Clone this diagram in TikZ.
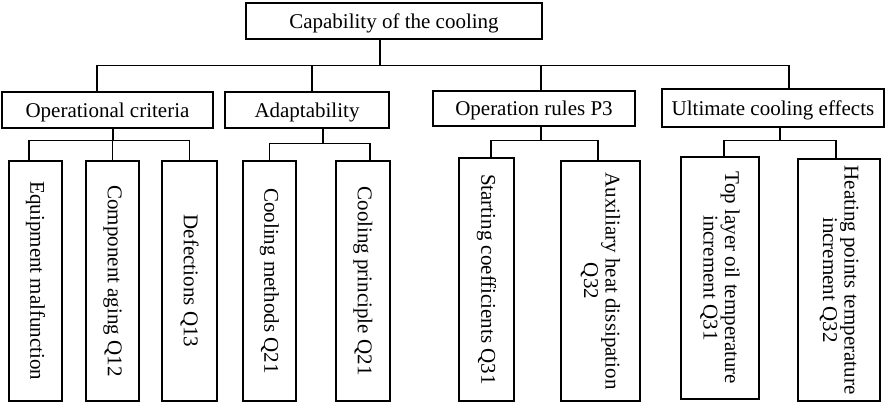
\documentclass[tikz,border=0pt]{standalone}
\usepackage{fontspec}
\setmainfont{Liberation Serif}
\usepackage{tikz}
\usetikzlibrary{positioning, calc}

\begin{document}
\begin{tikzpicture}[
  x=1pt, y=1pt,
  headnode/.style={
    rectangle, draw=black, line width=1.5pt,
    minimum height=36pt, inner sep=0pt,
    font=\fontsize{21}{22}\selectfont,
    text height=14.5pt, text depth=0pt
  },
  leafnode/.style={
    rectangle, draw=black, line width=1.5pt, rotate=-90,
    minimum width=240pt, inner sep=0pt, align=center,
    font=\fontsize{21}{21.5}\selectfont
  },
  link/.style={draw, line width=1.5pt, black},
]
\useasboundingbox (0,0) rectangle (889,-403);

% ============================================================
% ROOT AND CRITERIA
% ============================================================
\node[headnode, minimum width=296pt] (root) at (394,-21) {Capability of the cooling};

\node[headnode, minimum width=211pt] (opcrit) at (107.5,-110) {Operational criteria};
\node[headnode, minimum width=164pt] (adapt) at (307,-110) {Adaptability};
\node[headnode, minimum width=202pt, minimum height=35pt] (oprules) at (534,-108.5) {Operation rules P3};
\node[headnode, minimum width=222pt, minimum height=38pt] (ulteff) at (773,-108) {Ultimate cooling effects};

% ============================================================
% INDICATORS (rotated boxes)
% ============================================================
\node[leafnode, minimum height=53pt] (malfunc) at (35.5,-281) {Equipment malfunction};
\node[leafnode, minimum height=53pt] (aging) at (112.5,-281) {Component aging Q12};
\node[leafnode, minimum height=55pt] (defect) at (189.5,-281) {Defections Q13};
\node[leafnode, minimum height=53pt] (coolmeth) at (269.5,-281) {Cooling methods Q21};
\node[leafnode, minimum height=54pt] (coolprin) at (363,-281) {Cooling principle Q21};
\node[leafnode, minimum height=55pt, minimum width=243pt] (startcoef) at (486.5,-279.5) {Starting coefficients Q31};
\node[leafnode, minimum height=79pt] (auxheat) at (600.5,-281) {Auxiliary heat dissipation\\Q32};
\node[leafnode, minimum height=78pt, minimum width=242pt] (topoil) at (720,-278) {Top layer oil temperature\\increment Q31};
\node[leafnode, minimum height=82pt, minimum width=242pt] (hotspot) at (839,-280) {Heating points temperature\\increment Q32};

% ============================================================
% ROOT -> CRITERIA
% ============================================================
\draw[link] ([xshift=-14pt]root.south) -- ++(0,-26) coordinate (rootbus);
\draw[link] ([xshift=-10.5pt]opcrit.north) |- (rootbus) -| ([xshift=16pt]ulteff.north);
\draw[link] ([xshift=5pt]adapt.north) -- ([xshift=5pt]adapt.north |- rootbus);
\draw[link] ([xshift=7pt]oprules.north) -- ([xshift=7pt]oprules.north |- rootbus);

% ============================================================
% CRITERIA -> INDICATORS
% ============================================================
\draw[link] ([xshift=5.5pt]opcrit.south) -- ++(0,-12) coordinate (opbus);
\draw[link] ([xshift=-6.5pt]malfunc.west) |- (opbus) -| (defect.west);
\draw[link] (aging.west) -- (aging.west |- opbus);

\draw[link] ([xshift=16pt]adapt.south) -- ++(0,-15) coordinate (adbus);
\draw[link] (coolmeth.west) |- (adbus) -| ([xshift=7pt]coolprin.west);

\draw[link] ([xshift=7pt]oprules.south) -- ++(0,-14) coordinate (orbus);
\draw[link] ([xshift=4.5pt]startcoef.west) |- (orbus) -| ([xshift=-2.5pt]auxheat.west);

\draw[link] ([xshift=7pt]ulteff.south) -- ++(0,-13) coordinate (uebus);
\draw[link] ([xshift=4pt]topoil.west) |- (uebus) -| ([xshift=-3pt]hotspot.west);

\end{tikzpicture}
\end{document}
